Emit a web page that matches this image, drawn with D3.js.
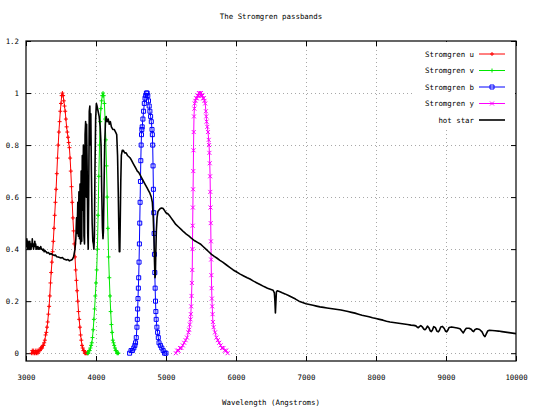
<!DOCTYPE html>
<html>
<head>
<meta charset="UTF-8">
<title>The Stromgren passbands</title>
<script src="https://d3js.org/d3.v7.min.js"></script>
<style>
  body { margin: 0; background: #fff; }
  svg { display: block; background: #fff; }
  text { font-family: "DejaVu Sans Mono", monospace; font-size: 7.4px; fill: #000; }
  .grid line { stroke: #a8a8a8; stroke-width: 1; stroke-dasharray: 1,3; }
  .axis line { stroke: #000; }
  .axis path { display: none; }
</style>
</head>
<body>
<svg width="535" height="410"></svg>
<script>
// tick values
const xTicks = [3000, 4000, 5000, 6000, 7000, 8000, 9000, 10000];
const yTicks = [0, 0.2, 0.4, 0.6, 0.8, 1, 1.2];

// filter transmissions [wavelength, response]
const bandU = [[3080,0.00],[3090,0.01],[3100,0.00],[3110,0.01],[3120,0.00],[3130,0.00],[3140,0.01],[3150,0.00],[3160,0.01],[3170,0.00],
  [3180,0.01],[3190,0.01],[3200,0.01],[3210,0.02],[3220,0.02],[3230,0.02],[3240,0.03],[3250,0.03],[3260,0.04],[3270,0.05],
  [3280,0.07],[3290,0.08],[3300,0.10],[3310,0.12],[3320,0.15],[3330,0.18],[3340,0.22],[3350,0.27],[3360,0.31],[3370,0.35],
  [3380,0.39],[3390,0.43],[3400,0.48],[3410,0.53],[3420,0.58],[3430,0.63],[3440,0.69],[3450,0.75],[3460,0.80],[3470,0.85],
  [3480,0.89],[3490,0.93],[3500,0.96],[3510,0.99],[3520,1.00],[3530,0.99],[3540,0.97],[3550,0.95],[3560,0.93],[3570,0.90],
  [3580,0.87],[3590,0.85],[3600,0.83],[3610,0.81],[3620,0.79],[3630,0.75],[3640,0.70],[3650,0.64],[3660,0.58],[3670,0.52],
  [3680,0.47],[3690,0.42],[3700,0.37],[3710,0.32],[3720,0.28],[3730,0.24],[3740,0.20],[3750,0.16],[3760,0.13],[3770,0.10],
  [3780,0.07],[3790,0.05],[3800,0.03],[3810,0.02],[3820,0.01],[3830,0.01],[3840,0.00],[3850,0.00],[3860,0.00],[3870,0.00],[3880,0.00]];

const bandV = [[3880,0.00],[3890,0.00],[3900,0.01],[3910,0.01],[3920,0.02],[3930,0.03],[3940,0.04],[3950,0.06],[3960,0.09],[3970,0.13],
  [3980,0.17],[3990,0.22],[4000,0.27],[4010,0.32],[4020,0.40],[4030,0.53],[4040,0.68],[4050,0.80],[4060,0.89],[4070,0.94],
  [4080,0.97],[4090,0.99],[4100,1.00],[4110,0.99],[4120,0.96],[4130,0.90],[4140,0.82],[4150,0.72],[4160,0.60],[4170,0.48],
  [4180,0.37],[4190,0.29],[4200,0.22],[4210,0.16],[4220,0.11],[4230,0.08],[4240,0.05],[4250,0.04],[4260,0.03],[4270,0.02],
  [4280,0.01],[4290,0.01],[4300,0.00],[4310,0.00],[4320,0.00]];

const bandB = [[4480,0.00],[4500,0.01],[4520,0.01],[4540,0.02],[4555,0.03],[4565,0.04],[4575,0.06],[4585,0.10],[4590,0.13],[4595,0.17],
  [4600,0.21],[4605,0.25],[4610,0.29],[4615,0.35],[4620,0.42],[4625,0.50],[4630,0.58],[4635,0.66],[4640,0.74],[4645,0.80],
  [4650,0.84],[4655,0.86],[4660,0.87],[4670,0.90],[4680,0.93],[4690,0.96],[4700,0.98],[4710,0.99],[4720,1.00],[4730,1.00],
  [4740,0.99],[4750,0.97],[4760,0.95],[4770,0.93],[4780,0.91],[4790,0.89],[4800,0.86],[4805,0.84],[4810,0.80],[4815,0.72],
  [4820,0.63],[4825,0.54],[4830,0.46],[4835,0.38],[4840,0.31],[4845,0.25],[4850,0.20],[4855,0.16],[4860,0.13],[4870,0.10],
  [4880,0.08],[4890,0.06],[4900,0.04],[4920,0.03],[4940,0.02],[4960,0.01],[4980,0.00],[5000,0.00]];

const bandY = [[5140,0.00],[5160,0.01],[5180,0.01],[5200,0.02],[5220,0.02],[5240,0.03],[5260,0.04],[5280,0.05],[5300,0.06],[5320,0.08],
  [5330,0.09],[5340,0.11],[5350,0.13],[5355,0.15],[5360,0.18],[5365,0.22],[5370,0.27],[5375,0.32],[5378,0.40],[5381,0.49],
  [5384,0.56],[5387,0.63],[5390,0.70],[5393,0.78],[5396,0.85],[5400,0.91],[5405,0.94],[5410,0.96],[5420,0.97],[5430,0.98],
  [5440,0.98],[5450,0.99],[5460,0.99],[5470,1.00],[5480,1.00],[5490,0.99],[5500,1.00],[5510,0.99],[5520,0.99],[5530,0.98],
  [5540,0.98],[5550,0.97],[5560,0.96],[5570,0.93],[5575,0.91],[5580,0.89],[5590,0.87],[5600,0.85],[5610,0.82],[5615,0.80],
  [5620,0.77],[5625,0.73],[5630,0.68],[5633,0.62],[5636,0.56],[5639,0.50],[5642,0.43],[5645,0.36],[5648,0.30],[5652,0.25],
  [5656,0.21],[5660,0.18],[5665,0.15],[5670,0.12],[5680,0.10],[5700,0.08],[5720,0.06],[5740,0.05],[5760,0.04],[5780,0.03],
  [5800,0.02],[5820,0.02],[5840,0.01],[5860,0.01],[5880,0.00]];

// hot star spectrum [wavelength, relative flux]
const hotStar = [[3000,0.43],[3006,0.41],[3012,0.44],[3018,0.42],[3024,0.40],[3030,0.43],[3036,0.41],[3042,0.42],[3048,0.40],[3054,0.43],
  [3060,0.41],[3066,0.42],[3072,0.40],[3078,0.42],[3084,0.41],[3090,0.44],[3096,0.41],[3102,0.42],[3108,0.40],[3114,0.42],
  [3120,0.41],[3126,0.43],[3132,0.41],[3138,0.42],[3144,0.40],[3150,0.41],[3160,0.40],[3170,0.41],[3180,0.40],[3190,0.405],
  [3200,0.40],[3210,0.41],[3220,0.40],[3230,0.40],[3240,0.395],[3250,0.40],[3260,0.39],[3270,0.395],[3280,0.39],[3290,0.39],
  [3300,0.385],[3320,0.387],[3340,0.38],[3360,0.383],[3380,0.378],[3400,0.376],[3420,0.377],[3440,0.371],[3460,0.370],[3480,0.368],
  [3500,0.366],[3520,0.368],[3540,0.362],[3560,0.360],[3580,0.358],[3600,0.360],[3620,0.355],[3640,0.357],[3660,0.360],[3680,0.370],
  [3700,0.40],[3712,0.44],[3722,0.52],[3730,0.46],[3740,0.58],[3748,0.45],[3756,0.62],[3764,0.44],[3772,0.65],[3780,0.42],
  [3788,0.70],[3796,0.43],[3804,0.76],[3812,0.55],[3820,0.80],[3828,0.45],[3836,0.42],[3844,0.84],[3852,0.89],[3860,0.60],
  [3866,0.88],[3874,0.70],[3882,0.46],[3889,0.40],[3896,0.62],[3904,0.93],[3912,0.95],[3920,0.80],[3926,0.92],[3934,0.70],
  [3945,0.50],[3955,0.43],[3963,0.42],[3970,0.40],[3977,0.45],[3985,0.70],[3995,0.90],[4005,0.96],[4015,0.95],[4030,0.93],
  [4045,0.91],[4060,0.87],[4072,0.80],[4082,0.62],[4092,0.48],[4100,0.44],[4106,0.47],[4114,0.62],[4124,0.80],[4134,0.88],
  [4145,0.91],[4160,0.89],[4175,0.90],[4190,0.88],[4205,0.89],[4220,0.87],[4240,0.86],[4260,0.86],[4280,0.85],[4296,0.84],
  [4308,0.76],[4318,0.62],[4326,0.48],[4333,0.39],[4340,0.39],[4346,0.50],[4354,0.66],[4362,0.76],[4375,0.78],[4390,0.78],
  [4410,0.77],[4430,0.77],[4450,0.76],[4470,0.755],[4490,0.75],[4510,0.74],[4530,0.73],[4550,0.72],[4570,0.71],[4590,0.70],
  [4610,0.695],[4630,0.685],[4650,0.675],[4670,0.665],[4690,0.655],[4710,0.645],[4730,0.635],[4750,0.625],[4770,0.615],[4790,0.60],
  [4805,0.58],[4818,0.52],[4828,0.44],[4836,0.35],[4843,0.29],[4848,0.30],[4854,0.38],[4862,0.47],[4872,0.52],[4885,0.545],
  [4900,0.55],[4915,0.555],[4935,0.558],[4955,0.557],[4975,0.55],[5000,0.54],[5030,0.535],[5060,0.525],[5100,0.51],[5140,0.495],
  [5180,0.485],[5220,0.475],[5250,0.467],[5290,0.458],[5330,0.45],[5370,0.44],[5410,0.432],[5450,0.426],[5490,0.42],[5530,0.41],
  [5570,0.40],[5610,0.39],[5650,0.38],[5690,0.372],[5730,0.365],[5770,0.357],[5810,0.35],[5860,0.34],[5910,0.33],[5960,0.32],
  [6010,0.312],[6060,0.304],[6110,0.297],[6160,0.29],[6200,0.285],[6250,0.277],[6300,0.27],[6350,0.263],[6400,0.256],[6450,0.25],
  [6500,0.245],[6530,0.242],[6548,0.232],[6556,0.20],[6563,0.155],[6569,0.19],[6577,0.235],[6590,0.24],[6620,0.237],[6660,0.232],
  [6700,0.228],[6750,0.222],[6800,0.215],[6850,0.208],[6900,0.20],[6950,0.195],[7000,0.19],[7050,0.187],[7100,0.184],[7150,0.181],
  [7200,0.178],[7250,0.176],[7300,0.174],[7350,0.172],[7400,0.17],[7450,0.168],[7500,0.166],[7550,0.163],[7600,0.16],[7650,0.157],
  [7700,0.154],[7750,0.150],[7800,0.146],[7850,0.143],[7900,0.14],[7950,0.136],[8000,0.133],[8050,0.130],[8100,0.127],[8150,0.123],
  [8200,0.12],[8250,0.118],[8300,0.116],[8350,0.114],[8400,0.112],[8450,0.110],[8500,0.108],[8540,0.107],[8570,0.105],[8590,0.100],
  [8605,0.098],[8620,0.102],[8640,0.106],[8665,0.100],[8685,0.092],[8700,0.090],[8715,0.094],[8735,0.104],[8755,0.098],[8775,0.086],
  [8790,0.083],[8805,0.088],[8825,0.102],[8850,0.098],[8870,0.085],[8890,0.082],[8905,0.087],[8925,0.101],[8950,0.103],[8975,0.095],
  [8995,0.084],[9010,0.082],[9025,0.088],[9045,0.099],[9080,0.101],[9120,0.099],[9160,0.097],[9200,0.094],[9225,0.085],[9247,0.078],
  [9268,0.088],[9290,0.096],[9330,0.096],[9360,0.092],[9380,0.085],[9395,0.083],[9410,0.090],[9440,0.094],[9480,0.091],[9515,0.082],
  [9540,0.068],[9557,0.064],[9572,0.072],[9595,0.085],[9620,0.088],[9660,0.087],[9700,0.086],[9750,0.085],[9800,0.083],[9850,0.081],
  [9900,0.079],[9950,0.077],[10000,0.075]];

const seriesNames = ["Stromgren u", "Stromgren v", "Stromgren b", "Stromgren y", "hot star"];
const seriesColors = ["#ff0000", "#00e800", "#0000ff", "#ff00ff", "#000000"];
const seriesMarks = ["plus", "plus", "square", "cross", null];
const seriesData = [bandU, bandV, bandB, bandY, hotStar];

const svg = d3.select("svg");
const plotLeft = 26, plotRight = 516, plotTop = 41, plotBottom = 361;

const x = d3.scaleLinear().domain([3000, 10000]).range([plotLeft, plotRight]);
const y = d3.scaleLinear().domain([-0.03, 1.2]).range([plotBottom, plotTop]);

// title
svg.append("text")
  .attr("x", 271).attr("y", 19)
  .attr("text-anchor", "middle")
  .text("The Stromgren passbands");

// grid
const grid = svg.append("g").attr("class", "grid");
grid.selectAll(".gx").data(xTicks.slice(1, -1)).enter().append("line")
  .attr("x1", d => Math.round(x(d)) + 0.5).attr("x2", d => Math.round(x(d)) + 0.5)
  .attr("y1", plotTop + 5).attr("y2", plotBottom - 5);
grid.selectAll(".gy").data(yTicks.slice(0, -1)).enter().append("line")
  .attr("x1", plotLeft + 5).attr("x2", plotRight - 5)
  .attr("y1", d => Math.round(y(d)) + 0.5).attr("y2", d => Math.round(y(d)) + 0.5);

// axes: ticks inward, mirrored on top/right
svg.append("g").attr("class", "axis")
  .attr("transform", `translate(0,${plotBottom})`)
  .call(d3.axisBottom(x).tickValues(xTicks).tickSize(-5).tickPadding(14).tickFormat(d3.format("d")));
svg.append("g").attr("class", "axis")
  .attr("transform", `translate(0,${plotTop})`)
  .call(d3.axisTop(x).tickValues(xTicks).tickSize(-5).tickFormat(""));
svg.append("g").attr("class", "axis")
  .attr("transform", `translate(${plotLeft},0)`)
  .call(d3.axisLeft(y).tickValues(yTicks).tickSize(-5).tickPadding(7).tickFormat(d => String(+d.toFixed(1))));
svg.append("g").attr("class", "axis")
  .attr("transform", `translate(${plotRight},0)`)
  .call(d3.axisRight(y).tickValues(yTicks).tickSize(-5).tickFormat(""));
svg.selectAll(".axis text").attr("fill", "#000").style("font-family", "DejaVu Sans Mono, monospace").style("font-size", "7.4px");

// x label
svg.append("text")
  .attr("x", 271).attr("y", 405)
  .attr("text-anchor", "middle")
  .text("Wavelength (Angstroms)");

svg.append("clipPath").attr("id", "plotclip")
  .append("rect").attr("x", plotLeft).attr("y", plotTop).attr("width", plotRight - plotLeft).attr("height", plotBottom - plotTop);

// key box hides the grid behind it
svg.append("rect")
  .attr("x", 413).attr("y", plotTop + 1).attr("width", plotRight - 414).attr("height", 86)
  .attr("fill", "#fff");

function markPath(kind, cx, cy, s) {
  if (kind === "plus") return `M${cx - s},${cy}h${2 * s}M${cx},${cy - s}v${2 * s}`;
  if (kind === "cross") return `M${cx - s},${cy - s}l${2 * s},${2 * s}M${cx - s},${cy + s}l${2 * s},${-2 * s}`;
  if (kind === "square") return `M${cx - s},${cy - s}h${2 * s}v${2 * s}h${-2 * s}z`;
  return "";
}

const plot = svg.append("g").attr("clip-path", "url(#plotclip)");
const line = d3.line().x(d => x(d[0])).y(d => y(d[1]));

seriesData.forEach((data, i) => {
  const isStar = seriesMarks[i] === null;
  plot.append("path")
    .datum(data)
    .attr("d", line)
    .attr("fill", "none")
    .attr("stroke", seriesColors[i])
    .attr("stroke-width", isStar ? 1.6 : 1)
    .attr("stroke-linejoin", "round");
  if (!isStar) {
    plot.append("path")
      .attr("d", data.map(d => markPath(seriesMarks[i], x(d[0]), y(d[1]), 2)).join(""))
      .attr("fill", "none")
      .attr("stroke", seriesColors[i])
      .attr("stroke-width", 1);
  }
});

// legend
const key = svg.append("g");
seriesNames.forEach((name, i) => {
  const ky = 54 + i * 16.5;
  key.append("text")
    .attr("x", 474).attr("y", ky).attr("dy", "0.35em")
    .attr("text-anchor", "end")
    .text(name);
  key.append("line")
    .attr("x1", 479).attr("x2", 505).attr("y1", ky).attr("y2", ky)
    .attr("stroke", seriesColors[i])
    .attr("stroke-width", seriesMarks[i] === null ? 1.6 : 1);
  if (seriesMarks[i]) {
    key.append("path")
      .attr("d", markPath(seriesMarks[i], 492, ky, 2))
      .attr("fill", "none")
      .attr("stroke", seriesColors[i]);
  }
});

// border
svg.append("rect")
  .attr("x", plotLeft).attr("y", plotTop).attr("width", plotRight - plotLeft).attr("height", plotBottom - plotTop)
  .attr("fill", "none").attr("stroke", "#000").attr("stroke-width", 1.2);
</script>
</body>
</html>
